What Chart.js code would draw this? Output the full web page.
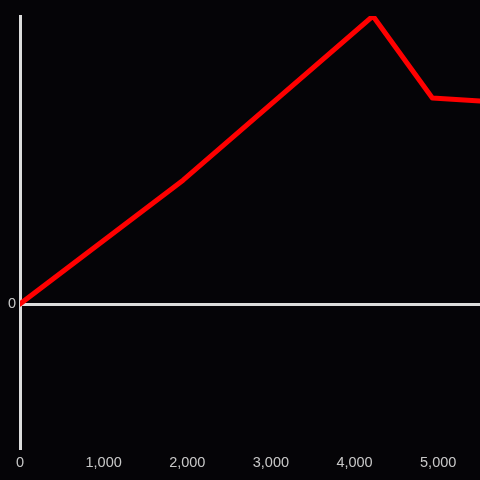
<!DOCTYPE html>
<html>
<head>
<meta charset="utf-8">
<script src="https://cdn.jsdelivr.net/npm/chart.js@4"></script>
<style>
  html, body { margin: 0; padding: 0; background: #050407; }
  #wrap { width: 480px; height: 480px; }
</style>
</head>
<body>
<div id="wrap"><canvas id="chart" width="480" height="480"></canvas></div>
<script>
// points of the red line
const xValues = [0, 1950, 4220, 4930, 5500];
const yValues = [0, 43, 100, 71.5, 70.5];

// tick labels on the x axis
const xTicks = [0, 1000, 2000, 3000, 4000, 5000];

// axis ranges
const xMin = 0, xMax = 5500;
const yMin = -50, yMax = 100;

const axisColor = '#dcdcdc';
const labelColor = '#c8c8c8';

const points = xValues.map(function (x, i) { return { x: x, y: yValues[i] }; });

new Chart(document.getElementById('chart'), {
  type: 'line',
  data: {
    datasets: [{
      data: points,
      borderColor: '#ff0000',
      borderWidth: 5,
      pointRadius: 0,
      tension: 0,
      borderJoinStyle: 'round',
      borderCapStyle: 'round'
    }]
  },
  options: {
    responsive: false,
    animation: false,
    layout: { padding: { top: 16, right: 0, bottom: 0, left: 0 } },
    plugins: { legend: { display: false }, tooltip: { enabled: false } },
    scales: {
      x: {
        type: 'linear',
        min: xMin,
        max: xMax,
        afterBuildTicks: function (scale) {
          scale.ticks = xTicks.map(function (v) { return { value: v }; });
        },
        ticks: {
          color: labelColor,
          font: { family: 'Liberation Sans', size: 14.5 },
          maxRotation: 0,
          autoSkip: false,
          padding: 6
        },
        grid: { display: false, drawTicks: false },
        border: { display: false },
        afterFit: function (scale) {
          scale.height = 32;
          scale.paddingLeft = 0;
          scale.paddingRight = 0;
        }
      },
      y: {
        min: yMin,
        max: yMax,
        afterBuildTicks: function (scale) { scale.ticks = [{ value: 0 }]; },
        ticks: {
          color: labelColor,
          font: { family: 'Liberation Sans', size: 14.5 },
          padding: 4
        },
        grid: { color: axisColor, lineWidth: 3, drawTicks: false },
        border: { display: true, color: axisColor, width: 3 },
        afterFit: function (scale) { scale.width = 20; }
      }
    }
  },
  plugins: [{
    id: 'bg',
    beforeDraw: function (chart) {
      const ctx = chart.ctx;
      ctx.save();
      ctx.fillStyle = '#050407';
      ctx.fillRect(0, 0, chart.width, chart.height);
      ctx.restore();
    }
  }]
});
</script>
</body>
</html>
